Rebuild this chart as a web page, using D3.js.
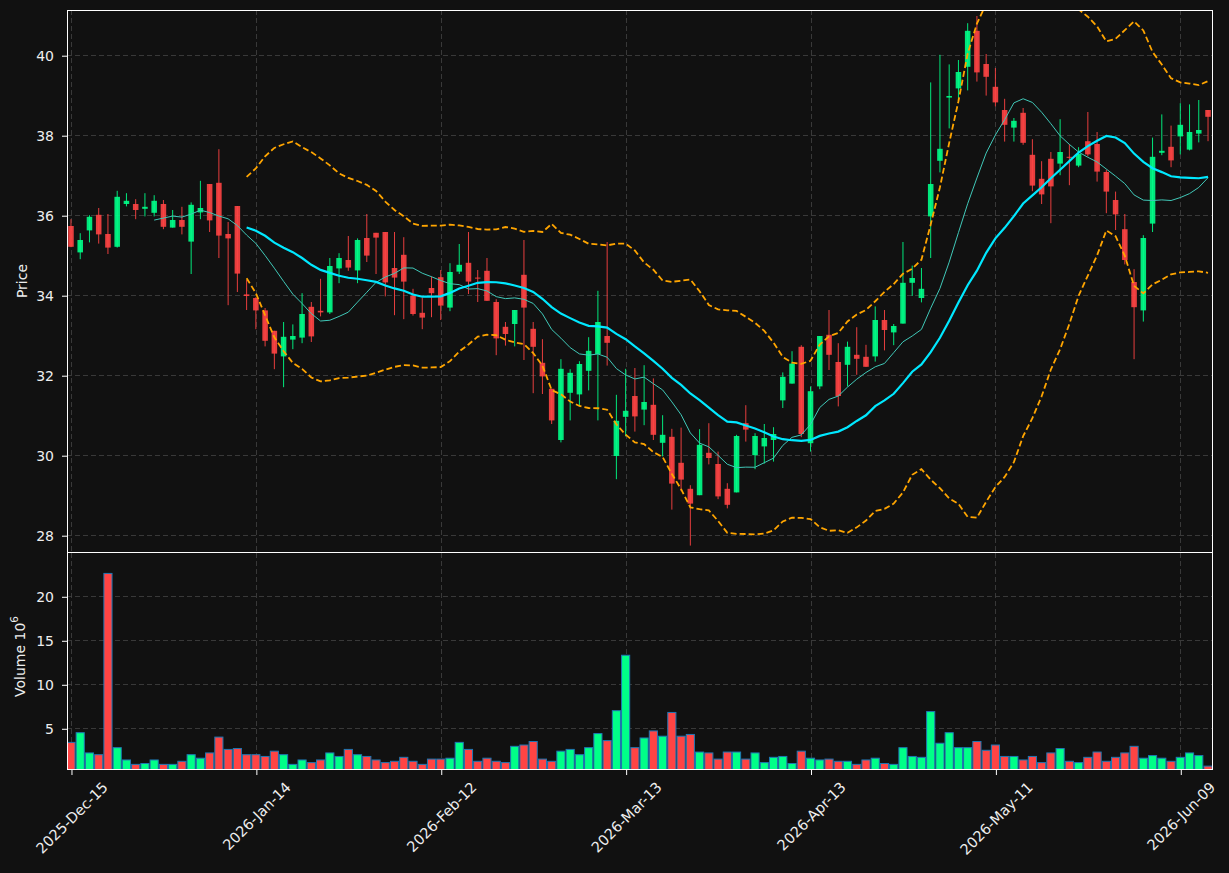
<!DOCTYPE html>
<html>
<head>
<meta charset="utf-8">
<script src="https://cdn.jsdelivr.net/npm/d3@7"></script>
<style>
  body { margin: 0; background: #111111; }
  svg { display: block; font-family: "DejaVu Sans", sans-serif; }
</style>
</head>
<body>
<svg id="chart" width="1229" height="873"></svg>
<script>
// ---- data ----
const tickIndex = [0, 20, 40, 60, 80, 100, 120];
const tickLabels = ["2025-Dec-15", "2026-Jan-14", "2026-Feb-12", "2026-Mar-13", "2026-Apr-13", "2026-May-11", "2026-Jun-09"];

const opens = [35.73, 35.07, 35.62, 36.01, 35.53, 35.21, 36.28, 36.28, 36.16, 36.06,
    36.28, 35.69, 35.88, 35.34, 36.07, 36.78, 36.81, 35.53, 36.23, 34.02,
    33.93, 33.62, 33.11, 32.47, 32.89, 32.94, 33.71, 33.61, 33.57, 34.67,
    34.88, 34.62, 35.43, 35.56, 35.58, 34.68, 35.01, 33.99, 33.56, 34.18,
    34.45, 33.69, 34.59, 34.81, 34.44, 34.61, 33.83, 33.21, 33.28, 34.51,
    33.16, 32.31, 31.66, 30.38, 31.56, 31.52, 32.11, 32.53, 32.98, 29.98,
    30.96, 31.48, 31.14, 31.26, 30.31, 30.46, 29.81, 29.16, 29.00, 30.06,
    29.78, 29.16, 29.07, 30.80, 30.00, 30.22, 30.38, 31.37, 31.79, 32.71,
    30.30, 31.72, 33.01, 32.33, 32.26, 32.51, 32.46, 32.47, 33.38, 33.07,
    33.29, 34.31, 33.93, 35.97, 37.36, 38.94, 39.17, 39.71, 40.61, 39.78,
    39.21, 38.63, 38.19, 38.56, 37.51, 36.91, 37.41, 37.29, 37.46, 37.24,
    37.85, 37.78, 37.08, 36.38, 35.65, 34.33, 33.62, 35.79, 37.56, 37.71,
    37.97, 37.64, 38.04, 38.63];
const highs = [35.90, 35.55, 36.00, 36.18, 36.03, 36.61, 36.55, 36.40, 36.55, 36.50,
    36.38, 36.13, 36.21, 36.32, 36.86, 36.78, 37.65, 35.83, 36.23, 34.38,
    33.95, 33.68, 33.11, 33.33, 33.27, 34.05, 33.83, 34.41, 34.93, 35.05,
    35.48, 35.42, 36.03, 35.56, 35.58, 35.58, 35.45, 34.16, 33.94, 34.47,
    34.63, 34.80, 35.28, 35.58, 34.63, 34.93, 33.90, 33.33, 33.63, 35.38,
    33.33, 32.90, 31.66, 32.40, 32.15, 32.35, 32.95, 34.11, 35.33, 31.51,
    32.16, 32.18, 32.25, 31.92, 31.00, 30.66, 30.69, 29.25, 30.65, 30.80,
    30.09, 29.30, 30.51, 31.25, 30.55, 30.78, 30.70, 32.07, 32.60, 32.75,
    31.72, 32.98, 33.63, 32.80, 32.84, 33.20, 32.76, 33.72, 33.63, 33.28,
    35.33, 34.74, 34.68, 39.32, 40.01, 39.77, 39.88, 40.80, 40.98, 40.03,
    39.68, 38.91, 38.43, 38.68, 37.90, 37.35, 37.58, 38.40, 37.78, 37.70,
    38.58, 38.08, 37.14, 36.59, 36.03, 34.65, 35.50, 37.94, 38.52, 38.24,
    38.80, 38.77, 38.88, 38.63];
const lows = [35.20, 34.90, 35.32, 35.29, 35.03, 35.19, 36.22, 35.90, 35.97, 35.97,
    35.65, 35.69, 35.52, 34.53, 35.90, 35.58, 34.93, 33.75, 34.08, 33.63,
    33.15, 32.72, 32.15, 31.70, 32.65, 32.80, 32.83, 33.47, 33.53, 34.30,
    34.61, 34.30, 34.83, 34.53, 33.97, 33.50, 33.40, 33.49, 33.15, 33.45,
    33.38, 33.60, 34.53, 34.03, 33.83, 33.86, 32.50, 32.74, 32.72, 32.38,
    31.55, 31.53, 30.78, 30.32, 30.87, 31.22, 31.62, 30.87, 32.24, 29.40,
    30.47, 30.59, 30.75, 30.38, 29.97, 28.64, 29.10, 27.74, 29.00, 29.77,
    28.90, 28.67, 29.07, 30.34, 29.65, 29.79, 29.84, 31.18, 31.79, 30.45,
    30.09, 31.65, 32.13, 31.22, 31.72, 32.01, 32.21, 32.34, 32.62, 32.75,
    33.29, 33.98, 33.82, 34.93, 37.07, 38.17, 38.88, 39.12, 39.34, 38.99,
    38.72, 37.84, 37.84, 37.76, 36.60, 36.28, 35.80, 37.00, 36.75, 37.20,
    37.47, 36.84, 36.05, 35.63, 34.77, 32.40, 33.34, 35.58, 37.50, 37.20,
    37.52, 37.62, 37.82, 37.85];
const closes = [35.21, 35.38, 35.96, 35.52, 35.19, 36.46, 36.36, 36.13, 36.21, 36.36,
    35.71, 35.88, 35.71, 36.26, 36.18, 35.87, 35.49, 35.42, 34.54, 33.98,
    33.62, 32.86, 32.54, 32.96, 32.98, 33.53, 32.97, 33.57, 34.73, 34.93,
    34.69, 35.38, 34.99, 35.44, 34.32, 34.44, 34.34, 33.53, 33.44, 34.05,
    33.74, 34.58, 34.76, 34.34, 34.42, 33.86, 32.92, 33.03, 33.63, 33.69,
    32.71, 31.97, 30.87, 32.16, 32.06, 32.28, 32.61, 33.33, 32.81, 30.86,
    31.11, 30.97, 31.33, 30.51, 30.51, 29.29, 29.39, 28.79, 30.26, 29.93,
    28.97, 28.76, 30.48, 30.64, 30.48, 30.43, 30.53, 31.96, 32.29, 30.53,
    31.60, 32.98, 32.51, 31.48, 32.71, 32.41, 32.21, 33.38, 33.13, 33.23,
    34.31, 34.43, 34.16, 36.78, 37.66, 38.98, 39.58, 40.61, 39.57, 39.46,
    38.82, 38.26, 38.36, 37.81, 36.74, 36.52, 36.72, 37.58, 37.44, 37.53,
    37.52, 37.09, 36.59, 36.02, 34.88, 33.70, 35.43, 37.46, 37.61, 37.37,
    38.26, 38.08, 38.13, 38.46];
// volume in millions
const volumes = [3.4, 4.5, 2.2, 2.0, 22.6, 2.8, 1.4, 0.9, 1.0, 1.4,
    0.9, 0.9, 1.25, 2.0, 1.6, 2.2, 4.0, 2.6, 2.7, 2.0,
    2.0, 1.8, 2.4, 2.0, 0.9, 1.4, 1.1, 1.4, 2.2, 1.8,
    2.6, 2.0, 1.8, 1.4, 1.1, 1.25, 1.7, 1.25, 0.9, 1.5,
    1.5, 1.6, 3.4, 2.6, 1.25, 1.6, 1.25, 1.1, 2.95, 3.1,
    3.5, 1.5, 1.25, 2.4, 2.6, 2.0, 2.8, 4.4, 3.6, 7.0,
    13.3, 2.8, 3.9, 4.7, 4.1, 6.8, 4.1, 4.3, 2.3, 2.2,
    1.5, 2.3, 2.3, 1.5, 2.2, 1.1, 1.7, 1.8, 1.0, 2.4,
    1.6, 1.4, 1.5, 1.25, 1.25, 0.9, 1.4, 1.6, 1.0, 0.9,
    2.8, 1.8, 1.7, 6.9, 3.3, 4.5, 2.8, 2.8, 3.5, 2.5,
    3.1, 1.8, 1.8, 1.4, 1.8, 1.1, 2.2, 2.7, 1.25, 1.1,
    1.7, 2.3, 1.25, 1.7, 2.2, 2.95, 1.6, 1.9, 1.6, 1.25,
    1.7, 2.2, 1.9, 0.7];
const priceTicks = [28, 30, 32, 34, 36, 38, 40];
const volumeTicks = [5, 10, 15, 20];

// ---- layout ----
const left = 67, right = 1212;
const pTop = 10, pBottom = 552, vTop = 553, vBottom = 770;
const upColor = "#00ff88", downColor = "#ff4444";
const gridColor = "#444444";
const textColor = "#eeeeee";

const svg = d3.select("#chart");
svg.append("rect").attr("width", 1229).attr("height", 873).attr("fill", "#111111");

const x = d3.scaleLinear().domain([-0.43, 123.43]).range([left, right]);
const yP = d3.scaleLinear().domain([27.58, 41.13]).range([pBottom, pTop]);
const yV = d3.scaleLinear().domain([0.26, 24.92]).range([vBottom, vTop]);
const step = x(1) - x(0);

const defs = svg.append("defs");
defs.append("clipPath").attr("id", "clipP").append("rect")
    .attr("x", left).attr("y", pTop).attr("width", right - left).attr("height", pBottom - pTop);
defs.append("clipPath").attr("id", "clipV").append("rect")
    .attr("x", left).attr("y", vTop).attr("width", right - left).attr("height", vBottom - vTop);

// ---- indicators from closes ----
function rolling(arr, n, fn) {
    return arr.map((v, i) => i < n - 1 ? null : fn(arr.slice(i - n + 1, i + 1)));
}
const ma10 = rolling(closes, 10, d3.mean);
const ma20 = rolling(closes, 20, d3.mean);
const sd20 = rolling(closes, 20, d3.deviation);
const bbUp = ma20.map((m, i) => m === null ? null : m + 2 * sd20[i]);
const bbLo = ma20.map((m, i) => m === null ? null : m - 2 * sd20[i]);

// ---- grid ----
function grid(g, y0, y1, yScale, yTicks) {
    for (let t of yTicks) {
        g.append("line")
            .attr("x1", left).attr("x2", right)
            .attr("y1", Math.round(yScale(t)) + 0.5).attr("y2", Math.round(yScale(t)) + 0.5)
            .attr("stroke", gridColor).attr("stroke-width", 0.8).attr("stroke-dasharray", "5,3");
    }
    for (let t of tickIndex) {
        g.append("line")
            .attr("x1", Math.round(x(t)) + 0.5).attr("x2", Math.round(x(t)) + 0.5)
            .attr("y1", y0).attr("y2", y1)
            .attr("stroke", gridColor).attr("stroke-width", 0.8).attr("stroke-dasharray", "5,3");
    }
}
grid(svg.append("g"), pTop, pBottom, yP, priceTicks);
grid(svg.append("g"), vTop, vBottom, yV, volumeTicks);

// ---- candles ----
const candles = svg.append("g").attr("clip-path", "url(#clipP)");
const bodyW = step * 0.6;
for (let i = 0; i < closes.length; i++) {
    const c = closes[i] >= opens[i] ? upColor : downColor;
    candles.append("line")
        .attr("x1", x(i)).attr("x2", x(i))
        .attr("y1", yP(highs[i])).attr("y2", yP(lows[i]))
        .attr("stroke", c).attr("stroke-width", 1).attr("opacity", 0.9);
    const top = yP(Math.max(opens[i], closes[i]));
    const h = Math.max(1, Math.abs(yP(opens[i]) - yP(closes[i])));
    candles.append("rect")
        .attr("x", x(i) - bodyW / 2).attr("y", top)
        .attr("width", bodyW).attr("height", h)
        .attr("fill", c).attr("opacity", 0.9);
}

// ---- moving averages and bands ----
function drawLine(values, color, width, dash) {
    const line = d3.line()
        .defined(d => d !== null)
        .x((d, i) => x(i))
        .y(d => yP(d));
    candles.append("path")
        .datum(values)
        .attr("d", line)
        .attr("fill", "none")
        .attr("stroke", color)
        .attr("stroke-width", width)
        .attr("stroke-dasharray", dash || null);
}
drawLine(ma10, "#40c8b8", 1);
drawLine(ma20, "#00e8ff", 2.2);
drawLine(bbUp, "#ffa500", 1.8, "6,3");
drawLine(bbLo, "#ffa500", 1.8, "6,3");

// ---- volume ----
const vol = svg.append("g").attr("clip-path", "url(#clipV)");
const volW = step * 0.88;
for (let i = 0; i < volumes.length; i++) {
    const c = closes[i] >= opens[i] ? upColor : downColor;
    vol.append("rect")
        .attr("x", x(i) - volW / 2).attr("y", yV(volumes[i]))
        .attr("width", volW).attr("height", yV(0) - yV(volumes[i]))
        .attr("fill", c).attr("stroke", "#1f77b4").attr("stroke-width", 1);
}

// ---- frames & axes ----
svg.append("rect").attr("x", left + 0.5).attr("y", pTop + 0.5).attr("width", right - left).attr("height", pBottom - pTop)
    .attr("fill", "none").attr("stroke", "#ffffff").attr("stroke-width", 1);
svg.append("rect").attr("x", left + 0.5).attr("y", vTop - 0.5).attr("width", right - left).attr("height", vBottom - vTop)
    .attr("fill", "none").attr("stroke", "#ffffff").attr("stroke-width", 1);

function styleAxis(g) {
    g.select(".domain").remove();
    g.selectAll(".tick line").attr("stroke", "#ffffff");
    g.selectAll(".tick text").attr("fill", textColor).style("font-size", "14px").style("font-family", "DejaVu Sans");
}

svg.append("g").attr("transform", `translate(${left},0.5)`)
    .call(d3.axisLeft(yP).tickValues(priceTicks).tickSize(5).tickPadding(8))
    .call(styleAxis);
svg.append("g").attr("transform", `translate(${left},0.5)`)
    .call(d3.axisLeft(yV).tickValues(volumeTicks).tickSize(5).tickPadding(8))
    .call(styleAxis);

const xAxis = svg.append("g").attr("transform", `translate(0.5,${vBottom})`)
    .call(d3.axisBottom(x).tickValues(tickIndex).tickFormat((d, i) => tickLabels[i]).tickSize(5))
    .call(styleAxis);
xAxis.selectAll(".tick text").style("font-size", "14.5px").each(function () {
    const t = d3.select(this);
    const len = this.getComputedTextLength();
    const off = 9 + (len + 16) * 0.7071 / 2;
    t.attr("y", 0).attr("dy", null)
        .attr("text-anchor", "middle")
        .attr("dominant-baseline", "central")
        .attr("transform", `translate(0,${off}) rotate(-45)`);
});

// ---- labels ----
svg.append("text")
    .attr("transform", `translate(22,${(pTop + pBottom) / 2}) rotate(-90)`)
    .attr("text-anchor", "middle").attr("dominant-baseline", "central")
    .attr("fill", textColor).style("font-size", "14px")
    .text("Price");

const vLabel = svg.append("text")
    .attr("transform", `translate(20,${(vTop + vBottom) / 2 - 5}) rotate(-90)`)
    .attr("text-anchor", "middle").attr("dominant-baseline", "central")
    .attr("fill", textColor).style("font-size", "14px");
vLabel.append("tspan").text("Volume  10");
vLabel.append("tspan").attr("dy", -6).style("font-size", "10.5px").text("6");
</script>
</body>
</html>
